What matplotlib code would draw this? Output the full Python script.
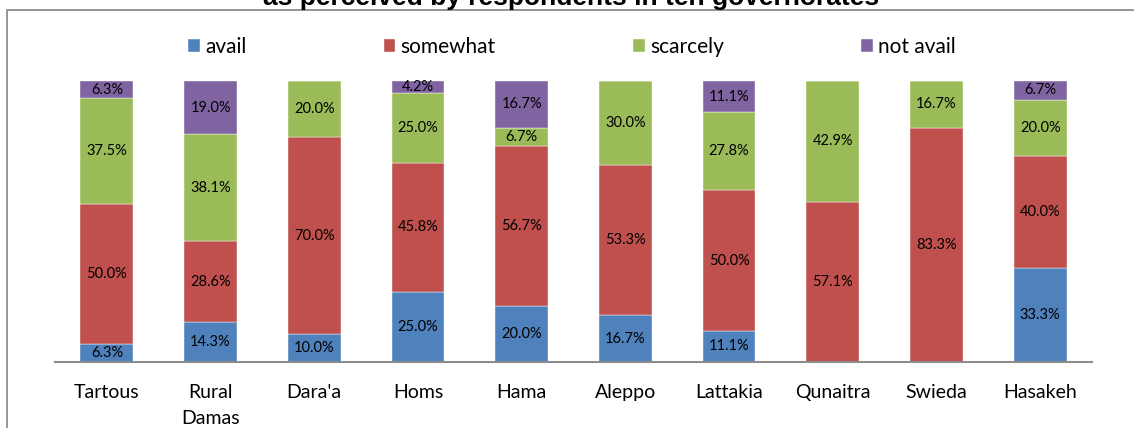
import numpy as np
import matplotlib
matplotlib.use("Agg")
from matplotlib import pyplot as plt
from matplotlib.patches import Rectangle

plt.rcParams['font.family'] = ['Lato', 'DejaVu Sans']

# governorates and shares (%)
regions = ['Tartous', 'Rural\nDamas', "Dara'a", 'Homs', 'Hama',
           'Aleppo', 'Lattakia', 'Qunaitra', 'Swieda', 'Hasakeh']
avail = [6.3, 14.3, 10.0, 25.0, 20.0, 16.7, 11.1, 0.0, 0.0, 33.3]
somewhat = [50.0, 28.6, 70.0, 45.8, 56.7, 53.3, 50.0, 57.1, 83.3, 40.0]
scarcely = [37.5, 38.1, 20.0, 25.0, 6.7, 30.0, 27.8, 42.9, 16.7, 20.0]
not_avail = [6.3, 19.0, 0.0, 4.2, 16.7, 0.0, 11.1, 0.0, 0.0, 6.7]

series = [('avail', avail, '#4F81BD'),
          ('somewhat', somewhat, '#C0504D'),
          ('scarcely', scarcely, '#9BBB59'),
          ('not avail', not_avail, '#8064A2')]

fig = plt.figure(figsize=(11.34, 4.28), dpi=100)
ax = fig.add_axes([55 / 1134, 66 / 428, 1037 / 1134, 281 / 428])

x = np.arange(len(regions))
bottom = np.zeros(len(regions))
for name, vals, col in series:
    vals = np.array(vals)
    ax.bar(x, vals, 0.51, bottom=bottom, color=col, label=name,
           edgecolor='white', linewidth=0.3)
    for xi, b, v in zip(x, bottom, vals):
        if v > 0:
            ax.text(xi, b + v / 2, f'{v:.1f}%', ha='center', va='center',
                    fontsize=10.5, color='black')
    bottom += vals

ax.set_xlim(-0.5, 9.5)
ax.set_ylim(0, 100)
ax.set_yticks([])
ax.set_xticks(x)
ax.set_xticklabels(regions, fontsize=14, linespacing=1.65)
ax.tick_params(axis='x', length=0, pad=16)
for s in ['top', 'right', 'left']:
    ax.spines[s].set_visible(False)
ax.spines['bottom'].set_color('#8c8c8c')
ax.spines['bottom'].set_linewidth(1.5)

fig.legend(loc='center', bbox_to_anchor=(572 / 1134, 1 - 47 / 428), ncol=4,
           frameon=False, fontsize=15, handlelength=0.55, handleheight=0.55,
           handletextpad=0.25, columnspacing=6.6)

# outer chart frame
fig.patches.append(Rectangle((7 / 1134, -0.1), 1.2, 1.1 - 10 / 428,
                             transform=fig.transFigure, fill=False,
                             edgecolor='#8c8c8c', linewidth=1.3))

fig.text(571 / 1134, 1 - 5 / 428, 'as perceived by respondents in ten governorates',
         ha='center', va='baseline', fontsize=19, fontweight='bold',
         family=['Liberation Sans', 'DejaVu Sans'])

fig.savefig('out.png', dpi=100)
